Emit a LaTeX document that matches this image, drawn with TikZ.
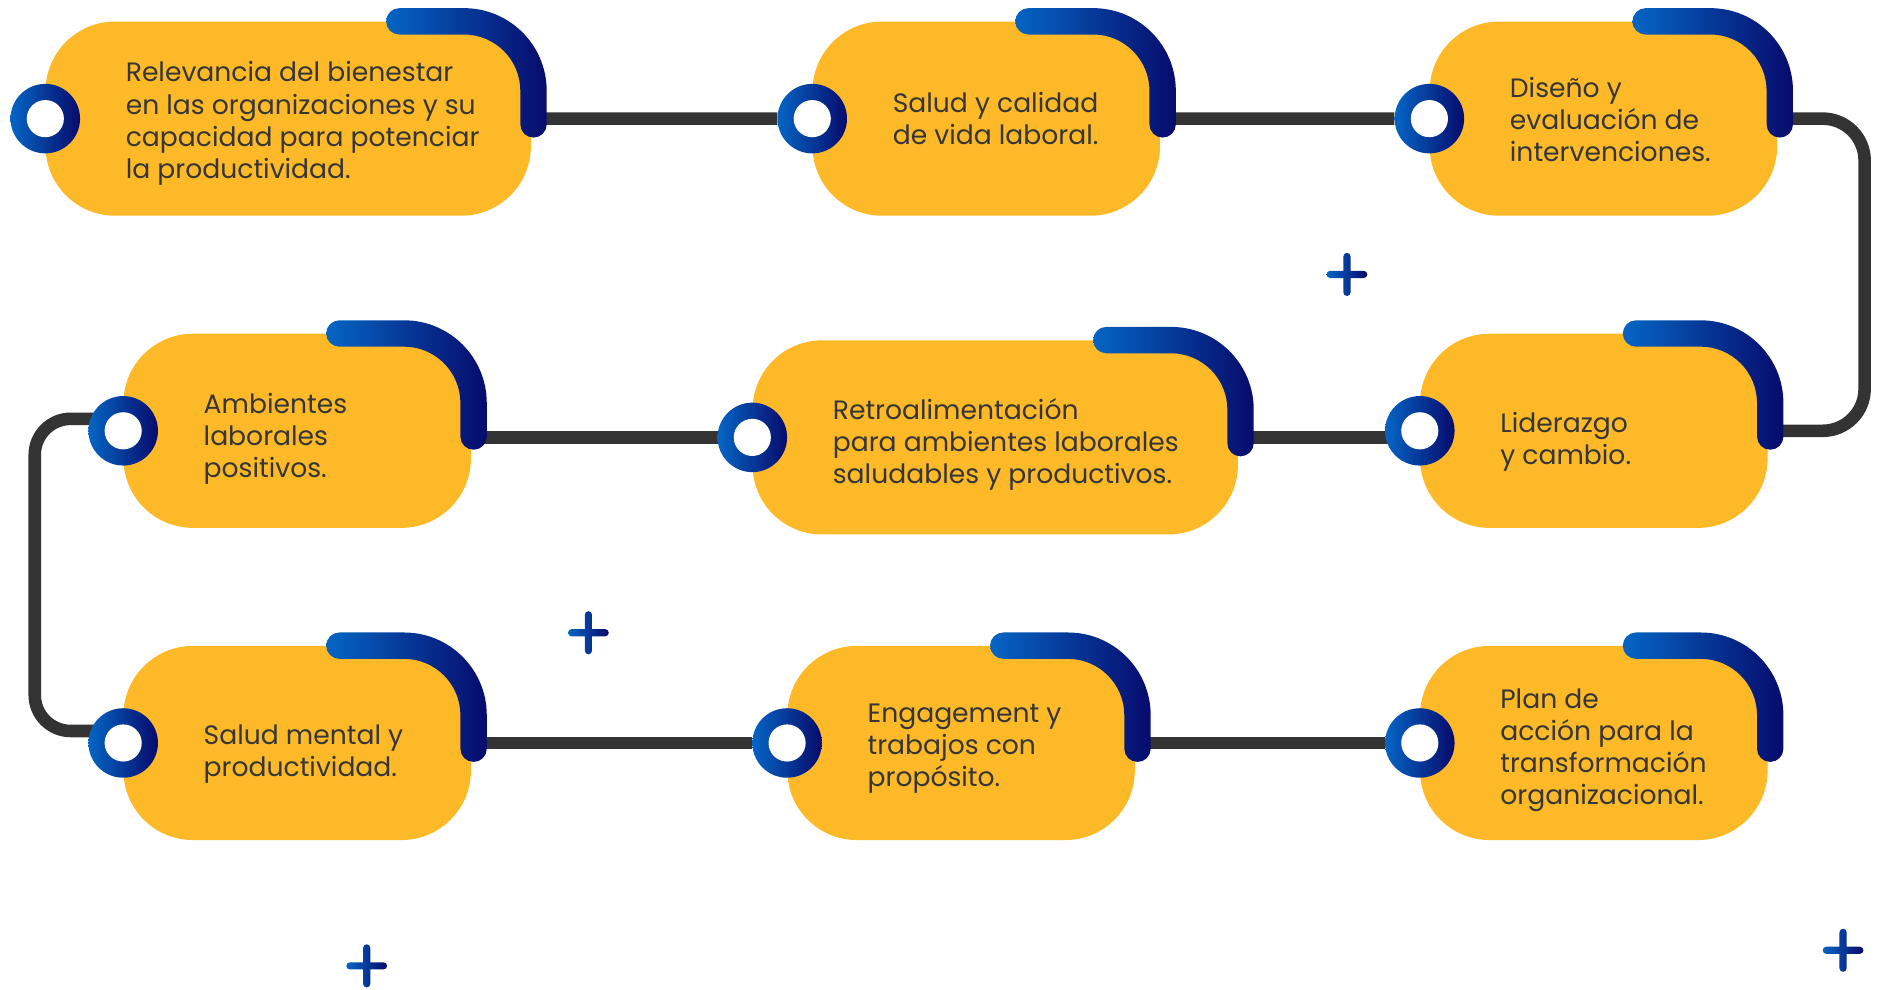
\documentclass[tikz,border=0pt]{standalone}
\usepackage{fontspec}
\setmainfont{Poppins}
\usetikzlibrary{backgrounds}
\definecolor{boxyellow}{HTML}{FDB927}
\definecolor{lightblue}{HTML}{0565C4}
\definecolor{navy}{HTML}{070B6C}
\definecolor{linegray}{HTML}{333333}
\definecolor{textgray}{HTML}{363636}
\tikzset{
  hook/.pic={
    \shade[left color=lightblue, right color=navy]
      (-110,11) -- (-56,11) arc[start angle=90, end angle=0, radius=69pt]
      -- (13,-86) arc[start angle=0, end angle=-180, radius=11pt]
      -- (-9,-58) arc[start angle=0, end angle=90, radius=47pt]
      -- (-110,-11) arc[start angle=270, end angle=90, radius=11pt] -- cycle;
  },
  plussign/.pic={
    \shade[left color=lightblue, right color=navy, rounded corners=3pt]
      (-17,-3) rectangle (17,3) (-3,-18) rectangle (3,18);
  }
}
\begin{document}
\begin{tikzpicture}[x=1pt, y=1pt,
    box/.style = {rectangle, rounded corners=58pt, fill=boxyellow, minimum height=162pt, minimum width=290pt, inner sep=0},
    wide/.style = {minimum width=405pt},
    txt/.style = {anchor=west, align=left, inner sep=0, text=textgray, font=\fontsize{22.2}{26.8}\selectfont},
    ring/.style = {circle, minimum size=58pt, inner sep=0, left color=lightblue, right color=navy,
      path picture={\fill[white] (path picture bounding box.center) circle[radius=15.5pt];}},
    link/.style = {draw=linegray, line width=10.5pt}
  ]
  \useasboundingbox (0,0) rectangle (1568,-826);

  % boxes
  \node[box, wide] (b1) at (240.5,-99) {};
  \node[box] (b2) at (823,-99) {};
  \node[box] (b3) at (1338,-99) {};
  \node[box] (b4) at (248,-359.5) {};
  \node[box, wide] (b5) at (830.5,-365) {};
  \node[box] (b6) at (1330,-359.5) {};
  \node[box] (b7) at (248,-620) {};
  \node[box] (b8) at (802,-620) {};
  \node[box] (b9) at (1330,-620) {};

  \foreach \i in {1,...,9} {
    \pic at (b\i.north east) {hook};
    \node[ring] (c\i) at (b\i.west) {};
  }

  % texts
  \node[txt] (t1) at ([xshift=67pt, yshift=-4pt]b1.west) {Relevancia del bienestar\\en las organizaciones y su\\capacidad para potenciar\\la productividad.};
  \node[txt] (t2) at ([xshift=67pt]b2.west) {Salud y calidad\\de vida laboral.};
  \node[txt] (t3) at ([xshift=67pt, yshift=-1pt]b3.west) {Diseño y\\evaluación de\\intervenciones.};
  \node[txt] (t4) at ([xshift=67pt, yshift=-7pt]b4.west) {Ambientes\\laborales\\positivos.};
  \node[txt] (t5) at ([xshift=67pt, yshift=-6pt]b5.west) {Retroalimentación\\para ambientes laborales\\saludables y productivos.};
  \node[txt] (t6) at ([xshift=67pt, yshift=-9pt]b6.west) {Liderazgo\\y cambio.};
  \node[txt] (t7) at ([xshift=67pt, yshift=-9pt]b7.west) {Salud mental y\\productividad.};
  \node[txt] (t8) at ([xshift=67pt, yshift=-5pt]b8.west) {Engagement y\\trabajos con\\propósito.};
  \node[txt] (t9) at ([xshift=67pt, yshift=-6pt]b9.west) {Plan de\\acción para la\\transformación\\organizacional.};

  % connectors
  \coordinate (leftrail) at (29,0);
  \coordinate (rightrail) at (1556,0);
  \coordinate (l4) at ([yshift=10pt]c4.center);
  \coordinate (l7) at ([yshift=10pt]c7.center);
  \begin{scope}[on background layer]
    \draw[link, rounded corners=35pt] (c1) -- (c2) -- (c3) -- (c3 -| rightrail) -- (c6 -| rightrail) -- (c6);
    \draw[link] (c6 |- c5) -- (c4 |- c5);
    \draw[link, rounded corners=30pt] (l4) -- (l4 -| leftrail) -- (l7 -| leftrail) -- (l7);
    \draw[link] (c7) -- (c8) -- (c9);
  \end{scope}

  % plus marks
  \pic at (1124,-229) {plussign};
  \pic at (491,-528) {plussign};
  \pic at (306,-806) {plussign};
  \pic at (1538,-793) {plussign};
\end{tikzpicture}
\end{document}
